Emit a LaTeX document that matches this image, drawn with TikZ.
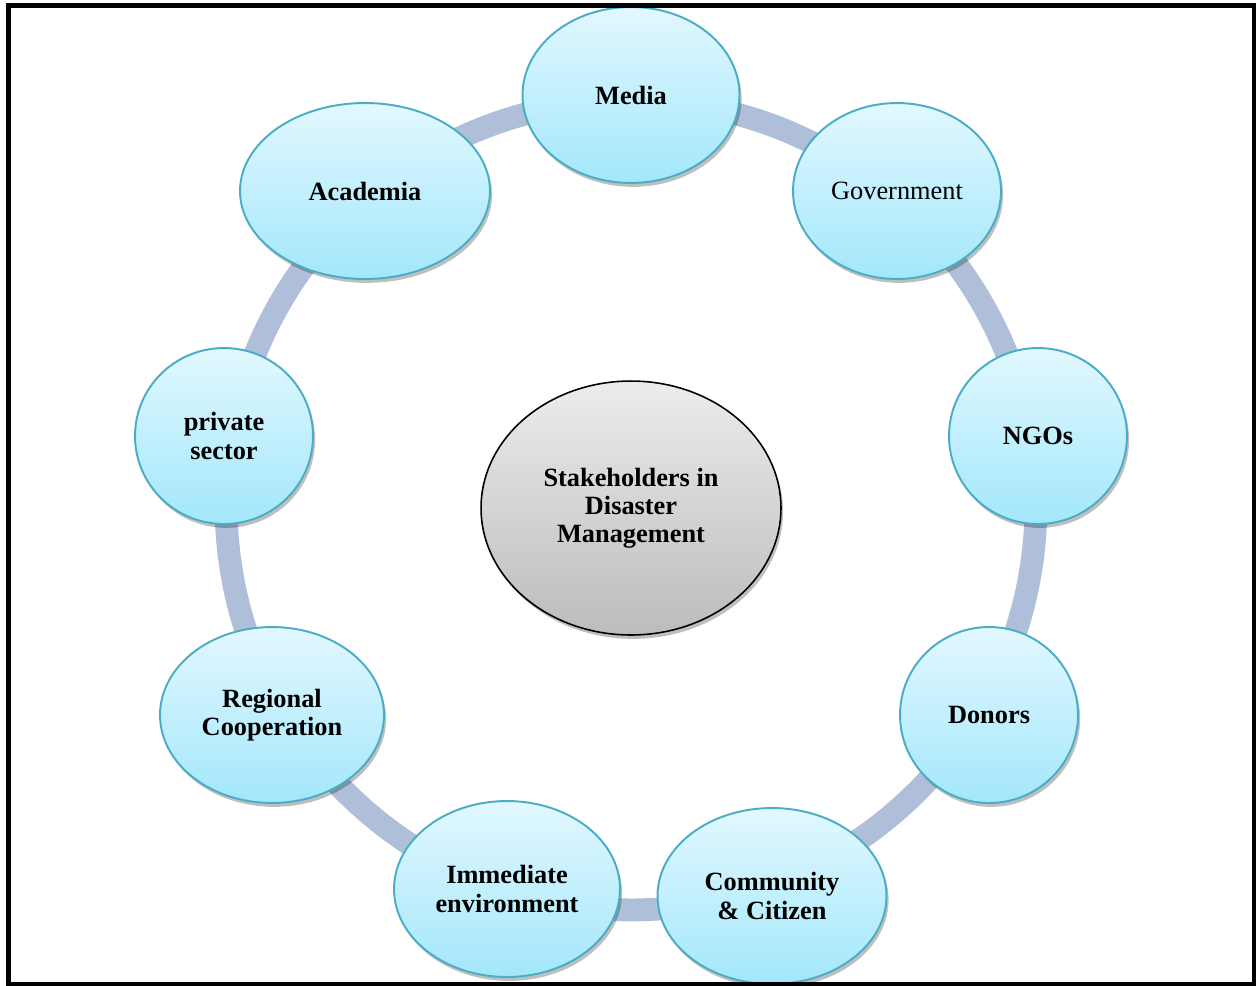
\documentclass[tikz,border=0pt]{standalone}
\usepackage{fontspec}
\setmainfont{Liberation Serif}
\usetikzlibrary{shapes.geometric,shadows}
\definecolor{ringc}{RGB}{175,190,217}
\definecolor{btop}{RGB}{226,248,255}
\definecolor{bbot}{RGB}{163,231,251}
\definecolor{bedge}{RGB}{75,172,198}
\definecolor{gtop}{RGB}{236,236,236}
\definecolor{gbot}{RGB}{188,188,188}
\begin{document}
\begin{tikzpicture}[x=0.02cm,y=-0.02cm,
  stake/.style={ellipse, draw=bedge, line width=1.1pt, top color=btop, bottom color=bbot,
    inner sep=0pt, minimum height=3.52cm, align=center,
    font=\fontsize{15}{16}\selectfont\bfseries,
    drop shadow={shadow xshift=1.2pt, shadow yshift=-2.2pt, opacity=0.25, fill=black}},
  hub/.style={ellipse, draw=black, line width=0.9pt, top color=gtop, bottom color=gbot,
    inner sep=0pt, minimum width=6cm, minimum height=5.08cm, align=center,
    font=\fontsize{15}{16}\selectfont\bfseries,
    drop shadow={shadow xshift=1.2pt, shadow yshift=-2.2pt, opacity=0.25, fill=black}},
  ring/.style={draw=ringc, line width=13pt},
  frame/.style={draw=black, line width=2.3pt}]
\useasboundingbox (0,0) rectangle (1256,985);
\coordinate (rc) at (631,505);
\draw[ring] (rc) circle[radius=8.1cm];
\node[stake, minimum width=4.34cm] (media) at (631,95) {Media};
\node[stake, minimum width=4.16cm, font=\fontsize{15}{16}\selectfont] (gov) at (897,191) {Government};
\node[stake, minimum width=3.56cm] (ngo) at (1038,436) {NGOs};
\node[stake, minimum width=3.56cm] (donor) at (989,715) {Donors};
\node[stake, minimum width=4.58cm] (comm) at (772,896) {Community\\\& Citizen};
\node[stake, minimum width=4.52cm] (imm) at (507,889) {Immediate\\environment};
\node[stake, minimum width=4.48cm] (reg) at (272,715) {Regional\\Cooperation};
\node[stake, minimum width=3.56cm] (priv) at (224,436) {private\\sector};
\node[stake, minimum width=5.0cm] (acad) at (365,191) {Academia};
\node[hub] (hubn) at (631,508) {Stakeholders in\\Disaster\\Management};
\draw[frame] (8.5,5.5) rectangle (1254,984);
\end{tikzpicture}
\end{document}
